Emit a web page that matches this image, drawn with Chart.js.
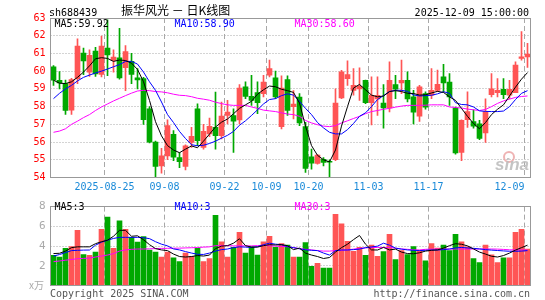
<!DOCTYPE html>
<html><head><meta charset="utf-8">
<script src="https://cdn.jsdelivr.net/npm/chart.js@4.4.1/dist/chart.umd.min.js"></script>
<style>
html,body{margin:0;padding:0;background:#fff;}
#wrap{position:relative;width:545px;height:300px;overflow:hidden;background:#fff;}
canvas{position:absolute;left:0;}
</style></head><body>
<div id="wrap">
<canvas id="pc" width="545" height="195" style="top:0;width:545px;height:195px"></canvas>
<canvas id="vc" width="545" height="105" style="top:195px;width:545px;height:105px"></canvas>
</div>
<script>
// ---- data ----
const dates = ['08-12','08-13','08-14','08-15','08-18','08-19','08-20','08-21','08-22',
 '08-25','08-26','08-27','08-28','08-29','09-01','09-02','09-03','09-04','09-05',
 '09-08','09-09','09-10','09-11','09-12','09-15','09-16','09-17','09-18','09-19',
 '09-22','09-23','09-24','09-25','09-26','09-29','09-30',
 '10-09','10-10','10-13','10-14','10-15','10-16','10-17',
 '10-20','10-21','10-22','10-23','10-24','10-27','10-28','10-29','10-30','10-31',
 '11-03','11-04','11-05','11-06','11-07','11-10','11-11','11-12','11-13','11-14',
 '11-17','11-18','11-19','11-20','11-21','11-24','11-25','11-26','11-27','11-28',
 '12-01','12-02','12-03','12-04','12-05','12-08','12-09'];
const opens  = [60.25,59.49,59.3,57.8,59.58,61.02,59.95,61.13,59.81,61.3,60.6,60.75,60.2,60.55,59.62,59.58,57.88,56.0,54.65,55.22,
 56.43,55.13,54.62,55.98,57.88,55.7,56.46,56.83,56.36,57.5,57.5,57.25,59.11,58.58,58.79,58.73,59.77,59.62,56.87,59.52,
 58.0,58.54,56.87,55.17,54.79,55.03,54.9,55.0,58.49,59.58,58.92,59.0,59.49,58.22,58.44,58.2,57.92,59.24,59.33,59.49,
 58.55,57.46,58.73,58.64,58.92,59.68,59.39,57.92,55.42,57.27,57.16,57.03,56.51,58.67,58.79,58.97,58.64,58.79,60.72,60.81];
const highs  = [60.31,59.98,59.5,59.6,61.82,61.3,61.2,61.35,61.98,62.9,61.2,62.42,61.45,61.0,60.15,59.65,58.0,56.05,55.64,57.25,
 56.65,55.41,55.85,56.83,58.16,57.0,57.35,58.82,58.26,58.35,57.88,59.24,59.4,59.77,59.4,59.77,60.62,60.0,59.73,59.73,
 58.9,58.73,57.12,55.6,55.3,55.13,55.0,59.0,60.05,60.58,60.15,60.19,59.5,59.68,59.68,59.24,60.53,59.77,60.62,59.96,
 58.92,59.2,58.83,60.15,60.06,60.38,59.87,57.97,57.25,58.83,57.82,57.22,58.44,59.87,59.58,59.58,59.49,60.53,62.23,61.57];
const lows   = [59.2,59.0,57.56,57.56,59.3,59.8,59.7,59.7,59.68,59.75,59.95,59.55,58.9,59.3,59.0,57.0,55.95,54.0,54.25,55.0,
 54.95,54.56,54.43,55.7,55.8,55.6,56.3,55.6,56.17,57.03,55.41,57.02,58.45,58.07,57.6,58.54,59.68,58.45,56.74,57.5,
 57.3,56.93,54.28,54.47,54.75,54.66,54.0,54.95,58.45,59.2,58.64,58.35,58.16,56.97,57.5,56.78,57.7,58.45,58.73,58.26,
 57.03,57.16,57.85,58.45,58.85,58.82,58.07,55.32,54.95,56.83,56.78,56.13,55.98,58.54,58.54,58.45,58.45,58.79,60.62,60.21];
const closes = [59.49,59.33,57.78,59.53,61.42,60.58,60.9,59.85,61.42,60.92,60.8,59.62,61.1,59.82,59.5,57.27,56.0,54.62,55.22,56.93,
 55.15,54.9,55.79,56.32,56.08,56.61,56.89,56.36,57.46,57.69,57.18,59.05,58.58,58.35,58.22,59.39,60.15,58.54,59.05,57.78,
 58.14,57.08,54.51,54.81,55.26,54.85,54.86,58.2,59.96,59.81,59.2,59.15,58.22,58.63,58.63,57.92,59.49,58.98,59.49,58.44,
 57.69,59.11,57.97,58.92,59.26,59.33,58.54,55.38,57.22,57.72,56.89,56.21,57.72,59.01,58.92,58.67,58.97,60.34,60.81,60.96];
const volumes = [3.07,2.9,3.77,3.96,5.6,3.16,3.07,3.4,5.69,6.93,3.77,6.55,5.69,4.89,4.4,4.98,3.61,3.39,2.9,3.39,
 2.81,2.43,3.3,2.97,3.77,2.43,2.75,7.12,4.44,2.9,3.87,5.4,3.3,3.93,3.1,4.44,5.0,3.87,4.25,4.12,
 2.9,2.9,4.35,1.95,2.27,1.79,1.79,7.22,6.26,4.5,3.48,3.87,3.07,4.12,2.97,3.45,5.2,2.65,3.55,3.16,
 3.96,3.55,2.52,4.25,3.8,4.12,3.55,5.2,4.44,3.93,2.75,2.33,4.12,3.13,2.33,2.81,2.81,5.4,5.69,3.71];
const ma5  = [59.49,59.32,59.3,59.4,59.65,59.95,60.3,60.7,60.76,60.72,60.55,60.63,60.6,60.45,60.1,59.4,58.35,57.15,56.35,55.8,
 55.55,55.4,55.6,55.78,55.68,56.05,56.45,56.85,57.12,57.3,57.6,57.9,58.1,58.3,58.7,58.95,59.16,59.12,58.98,58.9,
 58.8,58.2,56.9,55.8,55.25,55.0,54.88,55.55,56.9,58.0,59.05,59.25,58.95,58.65,58.55,58.6,58.85,58.9,58.85,58.75,
 58.74,58.65,58.67,58.77,58.86,58.8,58.55,58.35,57.9,57.45,57.05,56.75,57.1,57.55,57.85,58.1,58.6,59.1,59.55,59.92];
const ma10 = [58.45,58.75,59.0,59.2,59.45,59.65,59.78,59.9,60.0,60.12,60.25,60.37,60.55,60.55,60.4,59.95,59.4,58.92,58.26,57.55,
 57.1,56.6,56.2,55.85,55.79,55.82,55.92,56.05,56.22,56.38,56.6,56.95,57.2,57.5,57.82,58.15,58.4,58.45,58.62,58.72,
 58.65,58.3,57.9,57.55,57.1,56.8,56.55,56.46,56.46,56.7,57.05,57.45,57.65,58.0,58.4,58.62,58.85,58.92,58.92,58.86,
 58.66,58.6,58.62,58.64,58.72,58.84,58.75,58.22,58.12,58.1,57.98,57.76,57.73,57.72,57.72,57.75,58.0,58.4,58.75,58.9];
const ma30 = [56.55,56.62,56.75,57.0,57.18,57.38,57.55,57.78,57.98,58.15,58.32,58.47,58.62,58.76,58.88,58.92,58.9,58.85,58.83,58.78,
 58.7,58.64,58.62,58.56,58.47,58.42,58.36,58.25,58.17,58.1,58.07,58.07,58.07,57.98,57.9,57.8,57.76,57.72,57.65,57.58,
 57.55,57.45,57.22,57.08,56.98,56.9,56.87,56.93,57.08,57.2,57.33,57.45,57.6,57.72,57.78,57.85,57.9,57.97,58.03,58.07,
 58.07,58.07,58.08,58.1,58.1,58.1,57.98,57.95,57.92,57.86,57.82,57.78,57.84,58.0,58.18,58.32,58.42,58.52,58.57,58.6];
const volMa5  = [3.25,3.28,3.5,3.85,3.93,3.93,3.93,4.25,4.45,4.6,5.0,5.6,5.6,5.0,5.05,4.65,4.15,3.75,3.62,3.55,
 3.2,2.95,2.9,2.95,3.05,3.0,3.1,3.75,4.0,4.05,4.3,4.75,4.05,3.9,3.9,4.05,4.15,4.12,4.15,4.05,
 3.65,3.8,3.3,3.1,2.95,2.75,2.85,3.4,3.85,4.2,4.66,5.08,4.2,3.62,3.61,3.87,3.62,3.7,3.4,3.25,
 3.23,3.33,3.5,3.58,3.62,3.8,4.05,4.25,4.19,4.03,3.72,3.4,3.2,2.98,2.9,3.05,3.3,3.6,3.85,4.1];
const volMa10 = [3.0,3.15,3.35,3.55,3.58,3.6,3.61,4.1,4.4,4.6,4.78,4.89,4.89,4.89,4.89,4.85,4.76,4.45,4.2,4.03,
 3.72,3.62,3.45,3.3,3.18,3.16,3.3,3.5,3.65,3.71,3.85,3.93,3.9,3.87,3.95,4.15,4.3,4.2,4.15,3.95,
 3.85,3.73,3.63,3.58,3.55,3.3,3.1,3.55,3.61,3.61,3.65,3.7,3.85,3.92,4.0,4.3,4.1,3.8,3.7,3.62,
 3.58,3.55,3.58,3.61,3.61,3.65,3.71,3.82,3.87,3.82,3.78,3.72,3.65,3.6,3.56,3.52,3.48,3.48,3.5,3.55];
const volMa30 = [2.43,2.5,2.58,2.65,2.73,2.76,2.8,2.9,3.0,3.1,3.25,3.5,3.62,3.68,3.71,3.71,3.73,3.75,3.77,3.78,
 3.79,3.8,3.82,3.84,3.86,3.9,3.93,4.05,4.06,4.05,4.03,4.03,4.03,4.03,4.05,4.08,4.05,4.0,3.97,3.95,
 3.85,3.75,3.68,3.62,3.55,3.5,3.5,3.55,3.58,3.62,3.7,3.78,3.82,3.86,3.87,3.87,3.87,3.8,3.72,3.68,
 3.63,3.62,3.68,3.7,3.71,3.71,3.71,3.71,3.71,3.71,3.71,3.71,3.71,3.71,3.7,3.67,3.63,3.62,3.61,3.61];
const tickDates = ['08-25','09-08','09-22','10-09','10-20','11-03','11-17','12-09'];
const tickTexts = ['2025-08-25','09-08','09-22','10-09','10-20','11-03','11-17','12-09'];
const priceLegend = ['MA5:59.92','MA10:58.90','MA30:58.60'];
const volLegend = ['MA5:3','MA10:3','MA30:3'];
const titleCode = 'sh688439';
const titleName = '振华风光 － 日K线图';
const timeStamp = '2025-12-09 15:00:00';

// ---- styling ----
const RED = '#ff5555', GREEN = '#00a800';
const MONO = "'DejaVu Sans Mono', monospace";
const maColors = ['#000000','#0000ff','#ff00ff'];
const candleColors = closes.map((c,i)=> c >= opens[i] ? RED : GREEN);
const tickIdx = tickDates.map(d => dates.indexOf(d));

function drawGrid(chart, yVals){
  const {ctx, chartArea:a, scales:{x,y}} = chart;
  ctx.save();
  ctx.lineWidth = 1;
  ctx.strokeStyle = '#a8a8a8';
  ctx.setLineDash([1,2]);
  yVals.forEach(v=>{
    const py = Math.floor(y.getPixelForValue(v)) + 0.5;
    ctx.beginPath(); ctx.moveTo(a.left, py); ctx.lineTo(a.right, py); ctx.stroke();
  });
  ctx.strokeStyle = '#a8a8a8';
  ctx.setLineDash([5,3]);
  tickIdx.forEach(i=>{
    const px = Math.floor(x.getPixelForValue(i) - 3) + 0.5;
    ctx.beginPath(); ctx.moveTo(px, a.top); ctx.lineTo(px, a.bottom); ctx.stroke();
  });
  ctx.restore();
}
function drawFrame(chart){
  const {ctx, chartArea:a} = chart;
  ctx.save();
  ctx.strokeStyle = '#999999'; ctx.lineWidth = 1; ctx.setLineDash([]);
  const x0 = Math.floor(a.left)+0.5, x1 = Math.floor(a.right)+0.5;
  const y0 = Math.floor(a.top)+0.5, y1 = Math.floor(a.bottom)+0.5;
  ctx.strokeRect(x0, y0, x1-x0, y1-y0);
  ctx.restore();
}
function drawLegend(chart, texts, baseline){
  const {ctx} = chart;
  const xs = [54.5, 174.5, 294.5];
  ctx.save();
  ctx.font = '10px ' + MONO;
  ctx.textBaseline = 'alphabetic';
  texts.forEach((t,k)=>{ ctx.fillStyle = maColors[k]; ctx.fillText(t, xs[k], baseline); });
  ctx.restore();
}

const priceDeco = {
  id:'priceDeco',
  beforeDatasetsDraw(chart){
    drawGrid(chart, [55,56,57,58,59,60,61,62]);
    // sina watermark
    const {ctx} = chart;
    ctx.save();
    ctx.strokeStyle = 'rgba(235,160,160,0.8)'; ctx.lineWidth = 2;
    ctx.beginPath(); ctx.arc(509, 157, 5, 0, Math.PI*2); ctx.stroke();
    ctx.fillStyle = 'rgba(190,190,190,0.9)';
    ctx.font = 'italic bold 17px "Liberation Sans", sans-serif';
    ctx.textAlign = 'center';
    ctx.fillText('sina', 512, 170);
    ctx.restore();
  },
  afterDraw(chart){
    const {ctx, scales:{x}} = chart;
    drawFrame(chart);
    drawLegend(chart, priceLegend, 27);
    ctx.save();
    ctx.font = '10px ' + MONO;
    ctx.fillStyle = '#1a8ad8';
    ctx.textBaseline = 'alphabetic';
    tickIdx.forEach((i,k)=>{
      const gx = x.getPixelForValue(i) - 3;
      const w = ctx.measureText(tickTexts[k]).width;
      let tx = gx - w/2;
      if (tx + w > chart.chartArea.right - 2) tx = gx - w;
      ctx.fillText(tickTexts[k], tx, 190);
    });
    // title row
    ctx.fillStyle = '#000';
    ctx.fillText(titleCode, 49, 15.5);
    ctx.textAlign = 'right';
    ctx.fillText(timeStamp, 529, 15.5);
    ctx.textAlign = 'left';
    ctx.font = "12px 'Noto Sans CJK SC', sans-serif";
    ctx.fillText(titleName, 121, 14.5);
    ctx.restore();
  }
};
const volDeco = {
  id:'volDeco',
  beforeDatasetsDraw(chart){ drawGrid(chart, [2,4,6]); },
  afterDraw(chart){
    const {ctx} = chart;
    drawFrame(chart);
    drawLegend(chart, volLegend, 15);
    ctx.save();
    ctx.font = '10px ' + MONO;
    ctx.fillStyle = '#555';
    ctx.fillText('Copyright 2025 SINA.COM', 50, 101.5);
    ctx.textAlign = 'right';
    ctx.fillText('http://finance.sina.com.cn', 530, 101.5);
    ctx.fillStyle = '#aaa';
    ctx.font = "10px 'Noto Sans CJK SC', sans-serif";
    ctx.fillText('x万', 44, 94);
    ctx.restore();
  }
};

Chart.defaults.font.family = MONO;
Chart.defaults.font.size = 10;

const xCommon = {
  type:'category', offset:true,
  grid:{display:false}, border:{display:false}, ticks:{display:false}
};

new Chart(document.getElementById('pc'), {
  data:{
    labels: dates,
    datasets:[
      {type:'line', data: ma5, borderColor: maColors[0], borderWidth:1, pointRadius:0, tension:0, order:1},
      {type:'line', data: ma10, borderColor: maColors[1], borderWidth:1, pointRadius:0, tension:0, order:1},
      {type:'line', data: ma30, borderColor: maColors[2], borderWidth:1, pointRadius:0, tension:0, order:1},
      {type:'bar', data: opens.map((o,i)=>[o, closes[i]]), backgroundColor: candleColors,
        barThickness:5, minBarLength:1, grouped:false, borderWidth:0, order:2},
      {type:'bar', data: lows.map((l,i)=>[l, highs[i]]), backgroundColor: candleColors,
        barThickness:1, grouped:false, borderWidth:0, order:3}
    ]
  },
  options:{
    responsive:false, animation:false, events:[],
    layout:{padding:{top:18, right:14.5, left:0, bottom:0}},
    plugins:{legend:{display:false}, tooltip:{enabled:false}},
    scales:{
      x: Object.assign({}, xCommon, {afterFit(s){ s.height = 17.5; }}),
      y:{ min:54, max:63,
          ticks:{stepSize:1, color:'#ff0000', padding:5, font:{family:MONO, size:10}},
          grid:{display:false, drawTicks:false}, border:{display:false},
          afterFit(s){ s.width = 50.5; } }
    }
  },
  plugins:[priceDeco]
});

new Chart(document.getElementById('vc'), {
  data:{
    labels: dates,
    datasets:[
      {type:'line', data: volMa5, borderColor: maColors[0], borderWidth:1, pointRadius:0, tension:0, order:1},
      {type:'line', data: volMa10, borderColor: maColors[1], borderWidth:1, pointRadius:0, tension:0, order:1},
      {type:'line', data: volMa30, borderColor: maColors[2], borderWidth:1, pointRadius:0, tension:0, order:1},
      {type:'bar', data: volumes, backgroundColor: candleColors, barThickness:5, borderWidth:0, order:2}
    ]
  },
  options:{
    responsive:false, animation:false, events:[],
    layout:{padding:{top:6.7, right:14.5, left:0, bottom:0}},
    plugins:{legend:{display:false}, tooltip:{enabled:false}},
    scales:{
      x: Object.assign({}, xCommon, {afterFit(s){ s.height = 14.3; }}),
      y:{ min:0, max:8,
          ticks:{stepSize:2, color:'#aaaaaa', padding:5, font:{family:MONO, size:11},
                 callback:(v)=> v === 0 ? '' : String(v)},
          grid:{display:false, drawTicks:false}, border:{display:false},
          afterFit(s){ s.width = 50.5; } }
    }
  },
  plugins:[volDeco]
});
</script>
</body></html>
